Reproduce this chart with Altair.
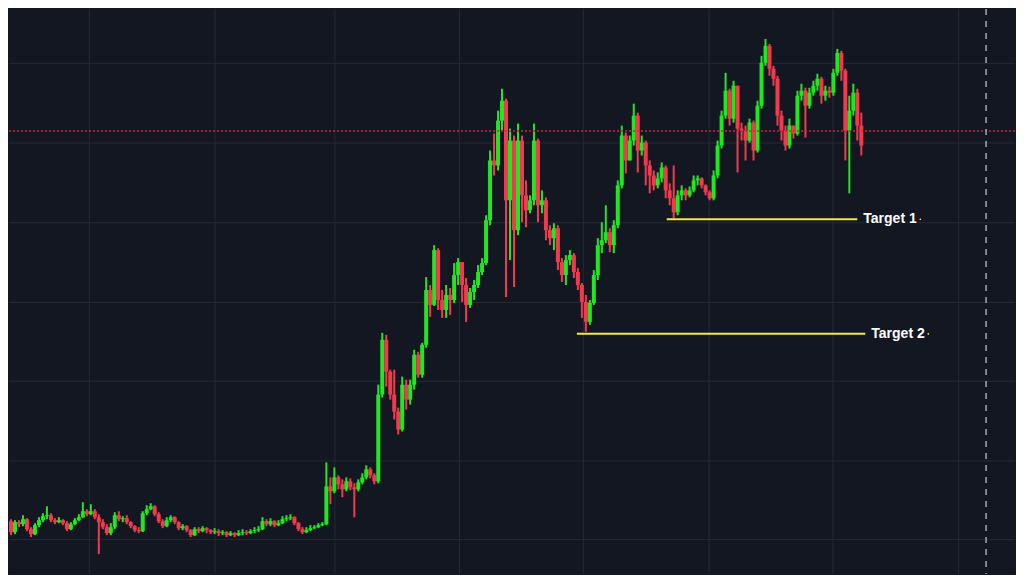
import altair as alt
import pandas as pd

# ---- candle data (price units, one candle per bar index) ----
opens = [87,75,78,67,77,75,80,70,65,74,
         79,83,84,79,77,79,76,70,75,79,
         82,88,85,88,82,77,72,66,72,84,
         80,81,77,73,69,68,86,90,93,85,
         78,73,79,82,77,71,73,69,64,70,
         68,71,69,67,68,66,67,64,66,64,
         66,67,66,68,69,70,78,75,78,74,
         76,80,81,82,76,70,67,69,71,72,
         74,75,113,108,122,115,110,118,112,110,
         117,122,130,124,118,205,260,228,205,188,
         170,215,200,215,245,225,255,310,295,350,
         300,290,305,300,325,338,315,295,308,315,
         328,337,380,440,435,480,500,400,460,370,
         460,405,390,400,460,395,400,370,362,372,
         338,325,340,345,328,315,298,278,297,325,
         355,360,368,355,375,415,465,440,460,485,
         450,458,435,425,415,422,433,410,402,388,
         405,410,405,410,420,422,415,408,402,425,
         455,485,510,482,515,472,470,460,478,450,
         495,538,555,532,522,485,470,455,475,467,
         505,510,495,508,515,522,505,510,508,528,
         548,530,470,490,508,475]

highs = [88,82,80,79,79,84,81,72,76,82,
         86,93,86,81,82,80,78,77,81,85,
         97,90,95,90,85,80,75,76,87,88,
         83,84,78,74,72,88,94,96,94,87,
         80,82,84,83,78,75,74,70,72,72,
         73,72,70,71,70,69,68,68,67,69,
         70,69,70,72,73,82,80,81,79,79,
         83,84,85,83,77,72,72,74,74,76,
         77,137,122,132,124,120,122,121,116,120,
         126,134,132,126,215,267,265,230,230,192,
         223,220,220,250,248,257,323,315,355,352,
         310,315,312,337,342,338,322,312,320,335,
         342,385,450,467,490,512,502,472,465,477,
         465,420,405,477,462,410,403,375,377,375,
         342,345,350,347,332,317,305,300,330,362,
         378,395,372,380,420,475,468,465,497,488,
         465,460,440,430,428,438,435,417,435,410,
         415,412,414,425,425,423,416,410,430,460,
         490,528,512,520,515,478,475,482,480,500,
         545,562,557,535,525,490,475,482,475,510,
         517,513,513,520,527,524,515,514,532,552,
         550,532,505,517,512,488]

lows = [42,72,64,65,72,73,68,62,64,72,
        77,80,77,75,76,74,68,69,74,78,
        81,83,84,80,45,70,64,64,70,78,
        77,75,71,67,66,67,84,89,83,76,
        71,72,77,75,69,69,67,62,63,66,
        67,66,65,65,63,64,62,63,62,63,
        64,64,65,66,67,69,73,73,72,73,
        75,78,79,74,68,65,66,68,70,71,
        73,74,95,106,110,102,108,109,82,108,
        115,120,121,115,116,202,213,200,180,165,
        168,190,195,210,222,222,252,283,294,290,
        282,282,285,297,315,298,278,292,300,312,
        325,335,375,425,430,470,303,340,313,365,
        378,373,387,395,378,387,360,355,350,330,
        318,315,335,322,310,282,268,275,295,320,
        347,357,348,347,372,412,427,440,455,428,
        445,415,407,410,412,418,402,395,382,385,
        400,400,403,408,415,412,405,400,400,422,
        452,482,475,478,428,460,440,458,440,448,
        492,535,525,515,475,460,450,452,462,465,
        500,463,492,505,510,497,500,503,505,525,
        520,440,407,485,460,445]

closes = [75,78,67,77,75,80,70,65,74,79,
          83,84,79,77,79,76,70,75,79,82,
          88,85,88,82,77,72,66,72,84,80,
          81,77,73,69,68,86,90,93,85,78,
          73,79,82,77,71,73,69,64,70,68,
          71,69,67,68,66,67,64,66,64,66,
          67,66,68,69,70,78,75,78,74,76,
          80,81,82,76,70,67,69,71,72,74,
          75,113,108,122,115,110,118,112,110,117,
          122,130,124,118,205,260,228,205,188,170,
          215,200,215,245,225,255,310,295,350,300,
          290,305,300,325,338,315,295,308,315,328,
          337,380,440,435,480,500,400,460,370,460,
          405,390,400,460,395,400,370,362,372,338,
          325,340,345,328,315,298,278,297,325,355,
          360,368,355,375,415,465,440,460,485,450,
          458,435,425,415,422,433,410,402,388,405,
          410,405,410,420,422,415,408,402,425,455,
          485,510,482,515,472,470,460,478,450,495,
          538,555,532,522,485,470,455,475,467,505,
          510,495,508,515,522,505,510,508,528,548,
          530,470,490,508,475,455]

# ---- annotation data ----
target_names = ["Target 1", "Target 2"]
target_prices = [381, 266]
target_starts = [166.25, 143.75]
target_ends = [214, 216]

alert_level = [469.5]
cursor_index = [246.25]

# grid positions (bar-index units / price units)
x_grid = [21.625, 53.125, 83.125, 114.375, 145.375, 176.875, 207.875, 239.375]
y_grid = [59.5, 138.5, 218.5, 297.5, 377.5, 457.5, 537.5]

# ---- styling ----
BG = "#131722"
GRID = "#262a35"
UP = "#22e622"
DOWN = "#f23a4e"
YELLOW = "#f7e83a"

n = len(closes)
df = pd.DataFrame({
    "i": list(range(n)),
    "open": opens,
    "high": highs,
    "low": lows,
    "close": closes,
})
df["dir"] = ["up" if c >= o else "down" for o, c in zip(opens, closes)]

tdf = pd.DataFrame({
    "name": target_names,
    "price": target_prices,
    "start": target_starts,
    "end": target_ends,
})
alert_df = pd.DataFrame({"level": alert_level})
cursor_df = pd.DataFrame({"idx": cursor_index})
xg_df = pd.DataFrame({"gx": x_grid})
yg_df = pd.DataFrame({"gy": y_grid})

# plot area covers the page from (8,8) to (1016,575)
x_scale = alt.Scale(domain=[1.5, 253.5], nice=False, zero=False, padding=0)
y_scale = alt.Scale(domain=[25, 592], nice=False, zero=False, padding=0)
color_scale = alt.Scale(domain=["up", "down"], range=[UP, DOWN])

xgrid = alt.Chart(xg_df).mark_rule(color=GRID, strokeWidth=1).encode(
    x=alt.X("gx:Q", scale=x_scale, axis=None),
)
ygrid = alt.Chart(yg_df).mark_rule(color=GRID, strokeWidth=1).encode(
    y=alt.Y("gy:Q", scale=y_scale, axis=None),
)

base = alt.Chart(df)

wicks = base.mark_rule(strokeWidth=2, clip=True).encode(
    x=alt.X("i:Q", scale=x_scale, axis=None),
    y=alt.Y("low:Q", scale=y_scale, axis=None),
    y2="high:Q",
    color=alt.Color("dir:N", scale=color_scale, legend=None),
)

bodies = base.mark_bar(width=4, clip=True).encode(
    x=alt.X("i:Q", scale=x_scale, axis=None),
    y=alt.Y("open:Q", scale=y_scale, axis=None),
    y2="close:Q",
    color=alt.Color("dir:N", scale=color_scale, legend=None),
)

tlines = alt.Chart(tdf).mark_rule(color=YELLOW, strokeWidth=2).encode(
    x=alt.X("start:Q", scale=x_scale, axis=None),
    x2="end:Q",
    y=alt.Y("price:Q", scale=y_scale, axis=None),
)

alert = alt.Chart(alert_df).mark_rule(color="#c92a3e", strokeWidth=1.5, strokeDash=[2, 2]).encode(
    y=alt.Y("level:Q", scale=y_scale, axis=None),
)

cursor = alt.Chart(cursor_df).mark_rule(color="#a3a7b2", strokeWidth=1.5, strokeDash=[6, 6]).encode(
    x=alt.X("idx:Q", scale=x_scale, axis=None),
)

text_props = dict(align="left", baseline="middle", dx=6, font="Liberation Sans",
                  fontSize=14, fontWeight="bold")

halo = alt.Chart(tdf).mark_text(stroke=BG, strokeWidth=3, fill=BG, **text_props).encode(
    x=alt.X("end:Q", scale=x_scale, axis=None),
    y=alt.Y("price:Q", scale=y_scale, axis=None),
    text="name:N",
)
labels = alt.Chart(tdf).mark_text(fill="#ffffff", **text_props).encode(
    x=alt.X("end:Q", scale=x_scale, axis=None),
    y=alt.Y("price:Q", scale=y_scale, axis=None),
    text="name:N",
)
dots = alt.Chart(tdf).mark_circle(size=3, color=YELLOW, opacity=1, xOffset=63).encode(
    x=alt.X("end:Q", scale=x_scale, axis=None),
    y=alt.Y("price:Q", scale=y_scale, axis=None),
)

chart = alt.layer(xgrid, ygrid, wicks, bodies, tlines, alert, cursor, halo, labels, dots).properties(
    width=1008,
    height=567,
    autosize=alt.AutoSizeParams(type="fit", contains="padding"),
    padding=0,
    background=BG,
).configure_view(strokeWidth=0)

chart.save("out.html", embed_options={"renderer": "svg", "actions": False})
